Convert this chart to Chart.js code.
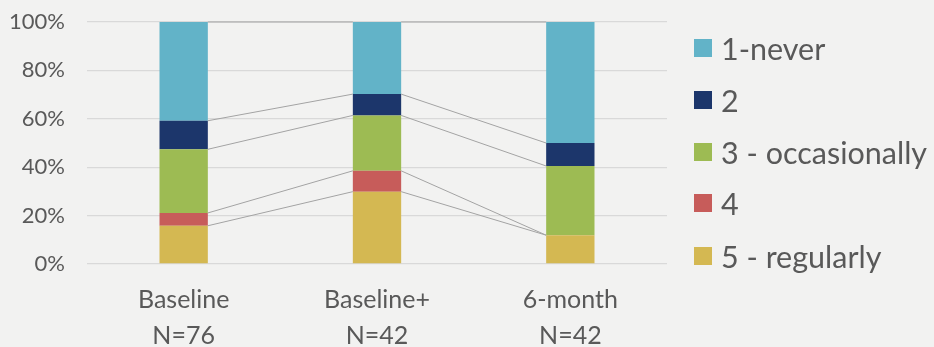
<!DOCTYPE html>
<html>
<head>
<meta charset="utf-8">
<script src="https://cdn.jsdelivr.net/npm/chart.js@4/dist/chart.umd.min.js"></script>
<style>
  html, body { margin: 0; padding: 0; background: #f2f2f1; }
  #wrap { position: relative; width: 934px; height: 347px; }
  #legend { position: absolute; left: 694px; top: 0; margin: 0; padding: 0; list-style: none;
            font-family: Lato, "Open Sans", sans-serif; font-size: 30.5px; color: #595959; }
  #legend li { position: absolute; left: 0; white-space: nowrap; display: flex; align-items: center; height: 30px; }
  #legend .box { width: 18px; height: 18px; margin-right: 9px; flex: none; }
</style>
</head>
<body>
<div id="wrap">
  <canvas id="chart" width="934" height="347"></canvas>
  <ul id="legend"></ul>
</div>
<script>
    // Categories (two-line tick labels)
    const categories = [['Baseline', 'N=76'], ['Baseline+', 'N=42'], ['6-month', 'N=42']];

    // Share of answers per category, in percent
    const regularly = [15.8, 29.9, 11.9];
    const four = [5.3, 8.6, 0];
    const occasionally = [26.3, 22.9, 28.6];
    const two = [11.8, 8.8, 9.5];
    const never = [40.8, 29.8, 50.0];

    const seriesNames = ['5 - regularly', '4', '3 - occasionally', '2', '1-never'];
    const seriesColors = ['#d4b852', '#c75c5a', '#9dbb53', '#1c366b', '#62b3c8'];
    const yTicks = [0, 20, 40, 60, 80, 100];

    const textColor = '#595959';
    const fontFamily = 'Lato, "Open Sans", sans-serif';

    // Gray connector lines between segment tops of neighbouring bars
    const seriesLines = {
        id: 'seriesLines',
        afterDatasetsDraw(chart) {
            const ctx = chart.ctx;
            ctx.save();
            ctx.strokeStyle = '#a3a3a3';
            ctx.lineWidth = 1;
            chart.data.datasets.forEach((ds, i) => {
                const bars = chart.getDatasetMeta(i).data;
                for (let j = 0; j < bars.length - 1; j++) {
                    const a = bars[j], b = bars[j + 1];
                    ctx.beginPath();
                    ctx.moveTo(a.x + a.width / 2, a.y);
                    ctx.lineTo(b.x - b.width / 2, b.y);
                    ctx.stroke();
                }
            });
            ctx.restore();
        }
    };

    const values = [regularly, four, occasionally, two, never];

    new Chart(document.getElementById('chart'), {
        type: 'bar',
        data: {
            labels: categories,
            datasets: values.map((v, i) => ({
                label: seriesNames[i],
                data: v,
                backgroundColor: seriesColors[i],
                borderWidth: 0,
                barPercentage: 0.25,
                categoryPercentage: 1
            }))
        },
        options: {
            responsive: false,
            animation: false,
            events: [],
            layout: { padding: { top: 22, right: 267, left: 0, bottom: 0 } },
            plugins: { legend: { display: false }, tooltip: { enabled: false } },
            scales: {
                x: {
                    stacked: true,
                    grid: { display: false, drawTicks: false },
                    border: { display: false },
                    ticks: { color: textColor, font: { family: fontFamily, size: 25, lineHeight: 1.45 }, padding: 18, maxRotation: 0 },
                    afterFit(scale) {
                        scale.height = 83;
                        scale.paddingLeft = 0;
                        scale.paddingRight = 0;
                    }
                },
                y: {
                    stacked: true,
                    min: 0,
                    max: 100,
                    afterBuildTicks(scale) { scale.ticks = yTicks.map(v => ({ value: v })); },
                    grid: { color: '#d9d9d9', lineWidth: 1.3, drawTicks: false },
                    border: { display: false },
                    ticks: {
                        color: textColor,
                        font: { family: fontFamily, size: 22 },
                        padding: 22,
                        callback: v => v + '%'
                    },
                    afterFit(scale) {
                        scale.width = 87;
                        scale.paddingTop = 0;
                        scale.paddingBottom = 0;
                    }
                }
            }
        },
        plugins: [seriesLines]
    });

    // Legend, top entry first
    const legend = document.getElementById('legend');
    const legendTops = [33, 85, 137, 188, 241];
    seriesNames.slice().reverse().forEach((name, k) => {
        const idx = seriesNames.length - 1 - k;
        const li = document.createElement('li');
        li.style.top = legendTops[k] + 'px';
        li.innerHTML = `<span class="box" style="background:${seriesColors[idx]}"></span><span>${name}</span>`;
        legend.appendChild(li);
    });
</script>
</body>
</html>
